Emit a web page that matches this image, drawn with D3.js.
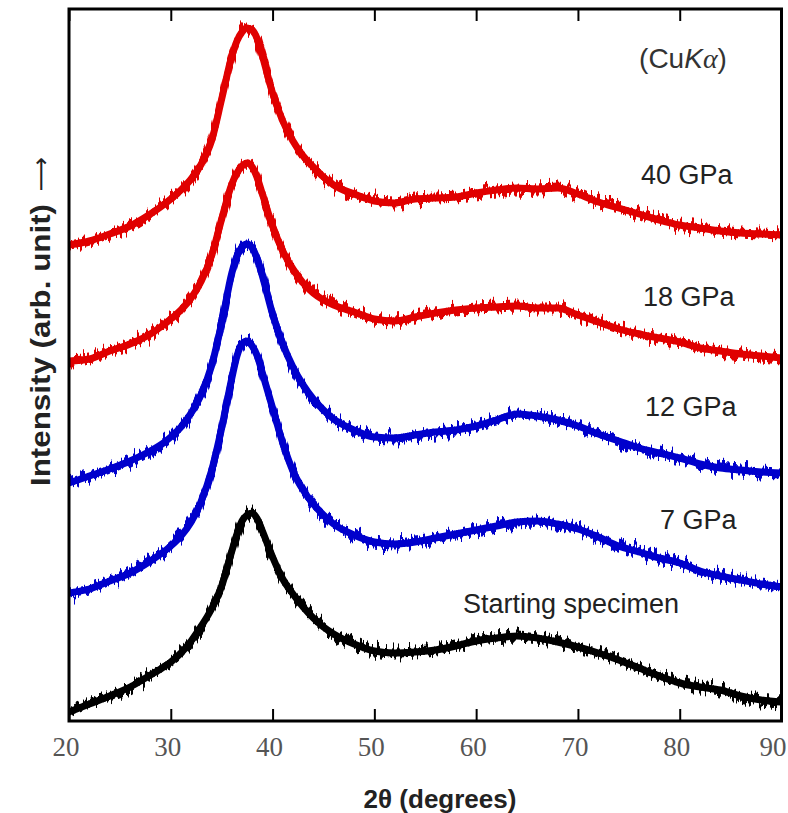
<!DOCTYPE html>
<html>
<head>
<meta charset="utf-8">
<script src="https://cdn.jsdelivr.net/npm/d3@7"></script>
<style>
  body { margin: 0; background: #fff; }
  text { font-family: "Liberation Sans", Arial, sans-serif; }
</style>
</head>
<body>
<div id="chart"></div>
<script>
// 2theta sampling (degrees)
var twoTheta = [20, 22, 24, 26, 28, 29, 30, 31, 32, 33, 34, 35, 36, 36.5, 37, 37.5, 38, 38.5, 39, 40, 41, 42, 43, 44, 45, 46, 48,
                50, 52, 54, 56, 58, 60, 62, 64, 66, 68, 70, 72, 74, 76, 78, 80, 82, 84, 86, 88, 90];

// intensities (arb. unit, curves already offset as in the figure)
var gpa40 = [476, 480, 487, 495, 507, 514, 522, 531, 542, 557, 580, 622, 665, 680, 689, 693, 691, 682, 665, 628, 600, 580, 565, 554, 544, 536, 527,
             520, 518, 522, 523, 524, 528, 531, 533, 532, 533, 527, 519, 513, 507, 501, 496, 493, 490, 488, 487, 486];
var gpa18 = [360, 362, 370, 377, 387, 394, 402, 411, 423, 440, 465, 502, 537, 548, 555, 558, 554, 543, 527, 495, 470, 452, 438, 428, 421, 416, 409,
             402, 400, 404, 408, 411, 413, 414, 415, 413, 413, 406, 399, 392, 387, 383, 379, 373, 370, 367, 365, 363];
var gpa12 = [238, 245, 252, 260, 270, 276, 284, 294, 308, 327, 355, 398, 448, 465, 474, 477, 473, 462, 445, 407, 377, 354, 336, 322, 311, 302, 291,
             284, 283, 286, 289, 291, 295, 301, 307, 305, 301, 295, 287, 280, 273, 268, 263, 257, 253, 251, 249, 248];
var gpa7 = [128, 132, 140, 148, 160, 167, 175, 185, 199, 220, 250, 293, 343, 365, 377, 380, 375, 365, 348, 313, 278, 250, 231, 217, 206, 197, 186,
            179, 177, 179, 183, 187, 191, 195, 199, 200, 197, 192, 184, 175, 169, 163, 158, 150, 145, 141, 137, 134];
var starting = [9, 17, 25, 34, 46, 52, 59, 68, 80, 95, 112, 135, 170, 187, 200, 206, 208, 202, 190, 164, 142, 127, 114, 103, 94, 87, 77,
                70, 68, 69, 71, 75, 80, 83, 85, 83, 79, 74, 68, 61, 53, 45, 38, 34, 31, 25, 21, 19];

var seriesNames = ["40 GPa", "18 GPa", "12 GPa", "7 GPa", "Starting specimen"];
var seriesColors = ["#e00000", "#e00000", "#0000cc", "#0000cc", "#000000"];
var xTicks = [20, 30, 40, 50, 60, 70, 80, 90];

var W = 788, H = 813;
var pL = 69, pR = 781.5, pT = 9, pB = 721;

var svg = d3.select("#chart").append("svg").attr("width", W).attr("height", H);

var x = d3.scaleLinear().domain([20, 90]).range([pL, pR]);
var y = d3.scaleLinear().domain([0, 712]).range([pB, pT]);

var allSeries = [gpa40, gpa18, gpa12, gpa7, starting];

var line = d3.line()
    .x(function(d, i){ return x(twoTheta[i]); })
    .y(function(d){ return y(d); })
    .curve(d3.curveMonotoneX);

var defs = svg.append("defs");
defs.append("clipPath").attr("id", "clip")
    .append("rect").attr("x", pL).attr("y", pT).attr("width", pR - pL).attr("height", pB - pT);

// grainy counting-noise look of the scans (render effect only)
var flt = defs.append("filter").attr("id", "grain")
    .attr("filterUnits", "userSpaceOnUse").attr("x", 0).attr("y", 0).attr("width", W).attr("height", H)
    .attr("color-interpolation-filters", "sRGB");
flt.append("feTurbulence").attr("type", "fractalNoise").attr("baseFrequency", "0.35 0.012")
    .attr("numOctaves", 2).attr("seed", 7).attr("result", "n");
flt.append("feColorMatrix").attr("in", "n").attr("type", "matrix")
    .attr("values", "0 0 0 0 0.5  0 1 0 0 0  0 0 0 0 0  0 0 0 0 1").attr("result", "m");
flt.append("feDisplacementMap").attr("in", "SourceGraphic").attr("in2", "m").attr("scale", 24)
    .attr("xChannelSelector", "R").attr("yChannelSelector", "G");

var g = svg.append("g").attr("clip-path", "url(#clip)");
// solid core of each band
g.selectAll(".core").data(allSeries).enter()
    .append("path").attr("class", "core")
    .attr("d", line)
    .attr("fill", "none")
    .attr("stroke", function(d, i){ return seriesColors[i]; })
    .attr("stroke-width", 7)
    .attr("stroke-linejoin", "round");
// spiky noisy fringe
g.append("g").attr("filter", "url(#grain)")
    .selectAll(".curve").data(allSeries).enter()
    .append("path").attr("class", "curve")
    .attr("d", line)
    .attr("fill", "none")
    .attr("stroke", function(d, i){ return seriesColors[i]; })
    .attr("stroke-width", 7)
    .attr("stroke-linejoin", "round");

// ticks on top and bottom, pointing in
var axB = d3.axisBottom(x).tickValues(xTicks).tickSize(-12).tickFormat("");
var axT = d3.axisTop(x).tickValues(xTicks).tickSize(-12).tickFormat("");
svg.append("g").attr("transform", "translate(0," + pB + ")").call(axB)
    .call(function(s){ s.select(".domain").remove(); s.selectAll("line").attr("stroke-width", 2); });
svg.append("g").attr("transform", "translate(0," + pT + ")").call(axT)
    .call(function(s){ s.select(".domain").remove(); s.selectAll("line").attr("stroke-width", 2); });

svg.append("rect").attr("x", pL).attr("y", pT).attr("width", pR - pL).attr("height", pB - pT)
    .attr("fill", "none").attr("stroke", "#000").attr("stroke-width", 3);

svg.selectAll(".xlab").data(xTicks).enter().append("text").attr("class", "xlab")
    .attr("x", function(d){ return Math.min(x(d) - 3, 773); }).attr("y", 756)
    .attr("text-anchor", "middle")
    .style("font-family", "'Liberation Serif', 'Times New Roman', serif")
    .style("font-size", "27px").attr("fill", "#555")
    .text(function(d){ return d; });

svg.append("text").attr("x", 440).attr("y", 808).attr("text-anchor", "middle")
    .style("font-size", "26px").style("font-weight", "bold").attr("fill", "#222")
    .text("2θ (degrees)");

svg.append("text").attr("transform", "translate(50,345) rotate(-90)").attr("text-anchor", "middle")
    .attr("textLength", 282).attr("lengthAdjust", "spacingAndGlyphs")
    .style("font-size", "27px").style("font-weight", "bold").attr("fill", "#222")
    .text("Intensity (arb. unit)");
svg.append("text").attr("transform", "translate(49,174) rotate(-90)").attr("text-anchor", "middle")
    .style("font-family", "'DejaVu Sans', sans-serif").style("font-size", "24px").attr("fill", "#222")
    .text("⟶");

// series labels
var labelPos = [[641, 184], [643, 306], [645, 416], [660, 529], [463, 613]];
svg.selectAll(".slab").data(seriesNames).enter().append("text").attr("class", "slab")
    .attr("x", function(d, i){ return labelPos[i][0]; })
    .attr("y", function(d, i){ return labelPos[i][1]; })
    .style("font-size", "27px").attr("fill", "#222")
    .text(function(d){ return d; });

var cu = svg.append("text").attr("x", 683).attr("y", 68).attr("text-anchor", "middle")
    .style("font-size", "28px").attr("fill", "#333");
cu.append("tspan").text("(Cu");
cu.append("tspan").style("font-style", "italic").text("K");
cu.append("tspan").style("font-style", "italic").style("font-family", "'Liberation Serif', serif").text("α");
cu.append("tspan").text(")");
</script>
</body>
</html>
